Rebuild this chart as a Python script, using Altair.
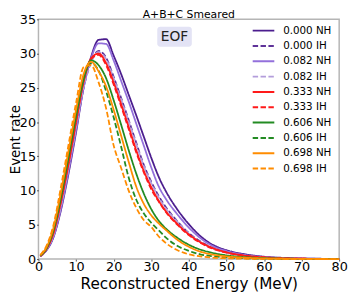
import altair as alt
import pandas as pd

energy = [0.5, 2, 4, 6, 8, 10, 12, 14, 16, 18, 20, 22, 24, 26, 28, 30, 32, 34, 37, 40, 43, 46, 50, 55, 60, 65, 70, 75, 80]

series_names = ["0.000 NH", "0.000 IH", "0.082 NH", "0.082 IH", "0.333 NH",
                "0.333 IH", "0.606 NH", "0.606 IH", "0.698 NH", "0.698 IH"]

nh_0000 = [0.4, 1.2, 3.2, 7.2, 12.5, 18.5, 25.0, 29.5, 32.0, 32.1, 29.7, 27.0, 24.0, 21.0, 17.9, 14.8, 12.0, 9.8, 7.2, 5.1, 3.4, 2.2, 1.3, 0.7, 0.35, 0.18, 0.09, 0.05, 0.03]
ih_0000 = [0.45, 1.3, 3.5, 7.7, 13.2, 19.2, 25.0, 28.8, 30.4, 29.4, 26.6, 23.5, 20.3, 17.0, 13.8, 11.3, 9.2, 7.5, 5.5, 3.8, 2.6, 1.7, 1.0, 0.5, 0.25, 0.12, 0.06, 0.03, 0.015]
nh_0082 = [0.4, 1.25, 3.3, 7.4, 12.8, 18.8, 25.0, 29.3, 31.5, 31.4, 29.0, 26.0, 23.0, 19.8, 16.6, 13.4, 10.6, 8.7, 6.5, 4.6, 3.1, 2.0, 1.2, 0.6, 0.3, 0.16, 0.08, 0.04, 0.02]
ih_0082 = [0.45, 1.3, 3.5, 7.8, 13.3, 19.3, 25.0, 28.7, 30.2, 29.2, 26.4, 23.3, 20.1, 16.8, 13.6, 11.1, 9.0, 7.3, 5.4, 3.7, 2.5, 1.65, 0.95, 0.48, 0.24, 0.12, 0.06, 0.03, 0.015]
nh_0333 = [0.45, 1.35, 3.8, 8.4, 13.9, 20.0, 25.9, 29.3, 30.0, 28.6, 25.8, 22.6, 19.3, 15.9, 12.9, 10.5, 8.5, 6.9, 5.1, 3.6, 2.5, 1.7, 1.0, 0.5, 0.25, 0.12, 0.06, 0.03, 0.015]
ih_0333 = [0.45, 1.4, 3.9, 8.5, 14.0, 20.1, 25.9, 29.2, 29.8, 28.3, 25.5, 22.3, 19.0, 15.6, 12.7, 10.2, 8.4, 6.8, 5.0, 3.5, 2.4, 1.6, 0.95, 0.48, 0.24, 0.12, 0.06, 0.03, 0.015]
nh_0606 = [0.5, 1.45, 4.2, 9.0, 14.8, 20.8, 26.2, 29.0, 28.3, 26.4, 23.2, 19.6, 15.9, 12.5, 9.6, 7.3, 5.6, 4.4, 3.1, 2.1, 1.4, 0.95, 0.55, 0.28, 0.14, 0.07, 0.04, 0.02, 0.01]
ih_0606 = [0.5, 1.5, 4.4, 9.4, 15.3, 21.3, 26.5, 28.6, 27.5, 24.5, 20.7, 16.4, 11.9, 8.7, 6.7, 5.3, 4.2, 3.1, 1.9, 1.2, 0.7, 0.45, 0.25, 0.12, 0.06, 0.03, 0.015, 0.01, 0.005]
nh_0698 = [0.55, 1.6, 4.6, 9.8, 15.8, 21.8, 27.0, 28.8, 27.4, 25.2, 21.8, 18.0, 14.2, 10.6, 8.1, 6.4, 5.2, 4.2, 2.8, 1.8, 1.1, 0.7, 0.4, 0.2, 0.1, 0.05, 0.03, 0.015, 0.01]
ih_0698 = [0.6, 1.8, 5.0, 10.6, 16.7, 22.8, 28.0, 28.3, 25.8, 22.0, 16.6, 13.3, 10.0, 7.5, 5.7, 4.7, 3.3, 2.3, 1.3, 0.7, 0.4, 0.22, 0.12, 0.06, 0.03, 0.015, 0.01, 0.005, 0.003]

series_values = [nh_0000, ih_0000, nh_0082, ih_0082, nh_0333, ih_0333, nh_0606, ih_0606, nh_0698, ih_0698]
series_colors = ["#4b1d8e", "#5f3399", "#9370db", "#b39ddb", "#ff1a1a",
                 "#ff1a1a", "#238b23", "#238b23", "#ff8c00", "#ff8c00"]
series_dash = [[1, 0], [5.5, 2.5]] * 5

x_ticks = [0, 10, 20, 30, 40, 50, 60, 70, 80]
y_ticks = [0, 5, 10, 15, 20, 25, 30, 35]
title_text = "A+B+C Smeared"
badge_text = "EOF"

rows = []
for i, (name, vals) in enumerate(zip(series_names, series_values)):
    for e, v in zip(energy, vals):
        rows.append({"series": name, "E": e, "rate": v, "idx": i})
df = pd.DataFrame(rows)

font = "DejaVu Sans"
xscale = alt.Scale(domain=[0, 80], nice=False)
yscale = alt.Scale(domain=[0, 35], nice=False)

x_axis = alt.Axis(values=x_ticks, title="Reconstructed Energy (MeV)", grid=False,
                  domain=False, tickColor="#555", tickSize=2, labelFontSize=13,
                  labelColor="black", titleFontSize=15.5, titleFontWeight="normal",
                  titleColor="black", labelFont=font, titleFont=font,
                  labelBaseline="alphabetic", labelPadding=10,
                  titleBaseline="alphabetic", titleY=30, labelOverlap=False,
                  labelFlush=False, format="d")
y_axis = alt.Axis(values=y_ticks, title="Event rate", grid=False,
                  domain=False, tickColor="#555", tickSize=2, labelFontSize=13,
                  labelColor="black", titleFontSize=13.5, titleFontWeight="normal",
                  titleColor="black", labelFont=font, titleFont=font,
                  titleX=-19, titleBaseline="alphabetic", labelPadding=1, labelOverlap=False,
                  labelFlush=False, format="d")

lines = alt.Chart(df).mark_line(strokeWidth=1.8, interpolate="monotone").encode(
    x=alt.X("E:Q", scale=xscale, axis=x_axis),
    y=alt.Y("rate:Q", scale=yscale, axis=y_axis),
    color=alt.Color("series:N", scale=alt.Scale(domain=series_names, range=series_colors),
                    sort=series_names,
                    legend=alt.Legend(title=None, orient="none", legendX=217, legendY=5,
                                      labelFontSize=10.5, labelFont=font, labelColor="black",
                                      symbolType="stroke", symbolSize=484, symbolStrokeWidth=2,
                                      clipHeight=13, rowPadding=2.6, labelOffset=8)),
    strokeDash=alt.StrokeDash("series:N", scale=alt.Scale(domain=series_names, range=series_dash),
                              sort=series_names, legend=alt.Legend(title=None, orient="none",
                                      legendX=217, legendY=5)),
    detail="series:N",
    order="E:Q",
)

box_df = pd.DataFrame({"x": [31.6], "x2": [40.8], "y": [31.0], "y2": [33.9]})
box = alt.Chart(box_df).mark_rect(fill="#e3e3f5", cornerRadius=3).encode(
    x=alt.X("x:Q", scale=xscale, axis=x_axis), x2="x2:Q",
    y=alt.Y("y:Q", scale=yscale, axis=y_axis), y2="y2:Q")

lab_df = pd.DataFrame({"x": [36.2], "y": [32.45], "t": [badge_text]})
lab = alt.Chart(lab_df).mark_text(fontSize=14, font=font, color="#222", baseline="middle",
                                  align="center").encode(
    x=alt.X("x:Q", scale=xscale, axis=x_axis), y=alt.Y("y:Q", scale=yscale, axis=y_axis),
    text="t:N")

ttl_df = pd.DataFrame({"t": [title_text]})
ttl = alt.Chart(ttl_df).mark_text(fontSize=11, font=font, color="black",
                                  baseline="alphabetic", align="center").encode(
    x=alt.value(153), y=alt.value(-1.2), text="t:N")

chart = alt.layer(lines, box, lab, ttl).properties(
    width=306, height=244,
    autosize=alt.AutoSizeParams(type="none"),
    padding={"left": 31, "top": 9, "right": 10, "bottom": 33},
).configure_view(stroke="#b5b5b5", strokeWidth=1.5).configure_axis(labelOverlap=False)

chart.save("out.html", embed_options={"renderer": "svg", "actions": False})
